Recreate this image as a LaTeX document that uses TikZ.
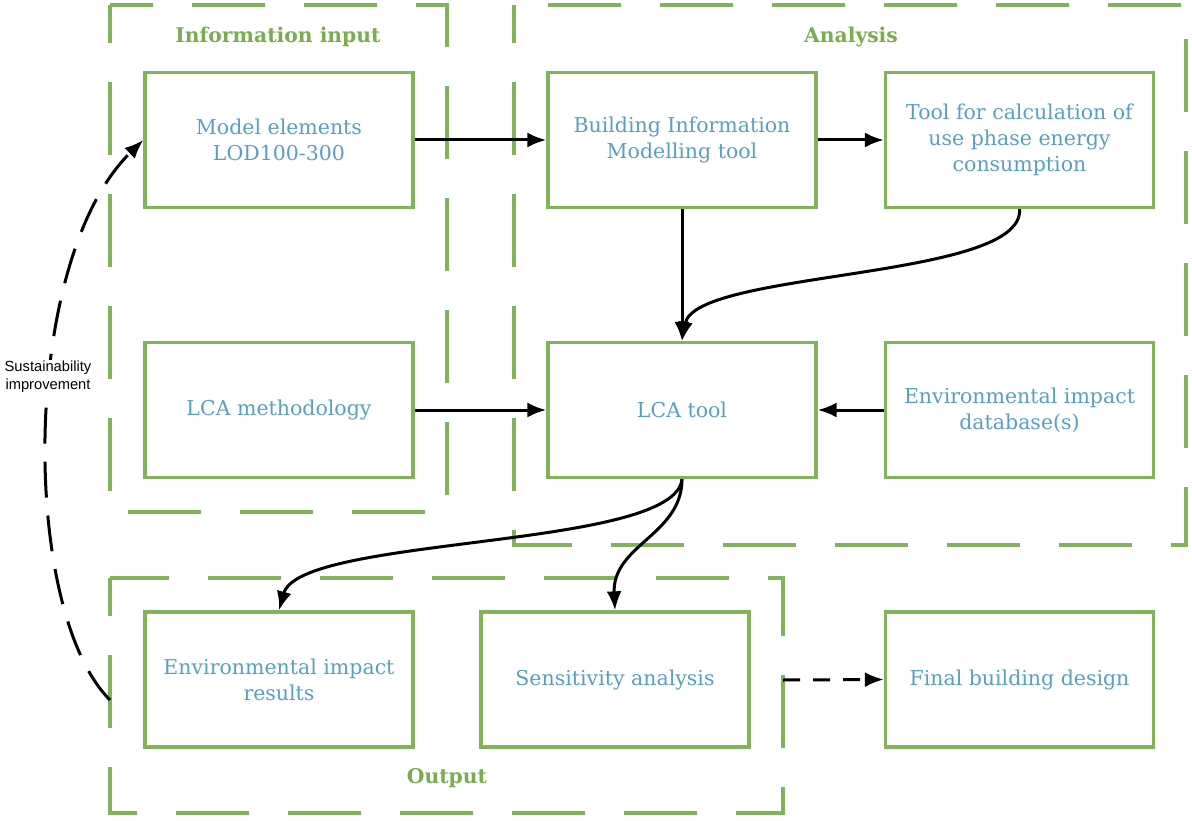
\documentclass[tikz,border=0pt]{standalone}
\usepackage{fontspec}
\setmainfont{DejaVu Serif}
\setsansfont{Liberation Sans}
\usetikzlibrary{arrows.meta}
\definecolor{boxgreen}{RGB}{130,178,90}
\definecolor{titlegreen}{RGB}{122,172,80}
\definecolor{textblue}{RGB}{88,160,192}
\tikzset{
  stepbox/.style={draw=boxgreen, line width=3.3pt, minimum width=268pt, minimum height=135pt,
    align=center, text=textblue, font=\fontsize{20.5}{26}\selectfont, inner sep=0pt},
  groupframe/.style={draw=boxgreen, line width=3.3pt, dash pattern=on 73pt off 39pt, dash phase=35pt},
  grouptitle/.style={text=titlegreen, font=\fontsize{20.3}{24}\selectfont\bfseries},
  flow/.style={draw=black, line width=3pt, -{Latex[length=19pt,width=15pt]}},
  loopflow/.style={flow, dash pattern=on 36pt off 18pt},
  nextflow/.style={flow, dash pattern=on 17pt off 13pt}
}
\begin{document}
\begin{tikzpicture}[x=1pt,y=-1pt]
\useasboundingbox[fill=white] (0,0) rectangle (1192,821);

% group frames
\draw[groupframe] (110,5) rectangle (447,512);
\draw[groupframe] (514,5) rectangle (1186,545);
\draw[groupframe] (110,578) rectangle (783,813);
\node[grouptitle] (tin) at (278,37) {Information input};
\node[grouptitle] (tan) at (851,37) {Analysis};
\node[grouptitle] (tout) at (447,778) {Output};

% process boxes
\node[stepbox] (model) at (279,140) {Model elements\\LOD100-300};
\node[stepbox] (bim) at (682,140) {Building Information\\Modelling tool};
\node[stepbox] (energy) at (1019.5,140) {Tool for calculation of\\use phase energy\\consumption};
\node[stepbox] (lcam) at (279,410) {LCA methodology};
\node[stepbox] (lcat) at (682,410) {LCA tool};
\node[stepbox] (db) at (1019.5,410) {Environmental impact\\database(s)};
\node[stepbox] (res) at (279,679.5) {Environmental impact\\results};
\node[stepbox] (sens) at (615,679.5) {Sensitivity analysis};
\node[stepbox] (final) at (1019.5,679.5) {Final building design};

% output group anchors
\coordinate (outleft) at (110,700);
\coordinate (outright) at (783,680);

% connectors
\draw[flow] (model.east) -- (bim.west);
\draw[flow] (bim.east) -- (energy.west);
\draw[flow] (bim.south) -- (lcat.north);
\draw[flow] (energy.south) .. controls (1025,280) and (695,270) .. (lcat.north);
\draw[flow] (lcam.east) -- (lcat.west);
\draw[flow] (db.west) -- (lcat.east);
\draw[flow] (lcat.south) .. controls (675,550) and (300,535) .. (res.north);
\draw[flow] (lcat.south) .. controls (682,535) and (612,545) .. (sens.north);
\draw[nextflow] (outright) -- (final.west);
\draw[loopflow] (outleft) .. controls (20,610) and (20,260) .. (model.west);

\node[fill=white, font=\sffamily\fontsize{14.7}{18}\selectfont, align=center, inner sep=1pt] (sust) at (48,377) {Sustainability\\improvement};
\end{tikzpicture}
\end{document}
